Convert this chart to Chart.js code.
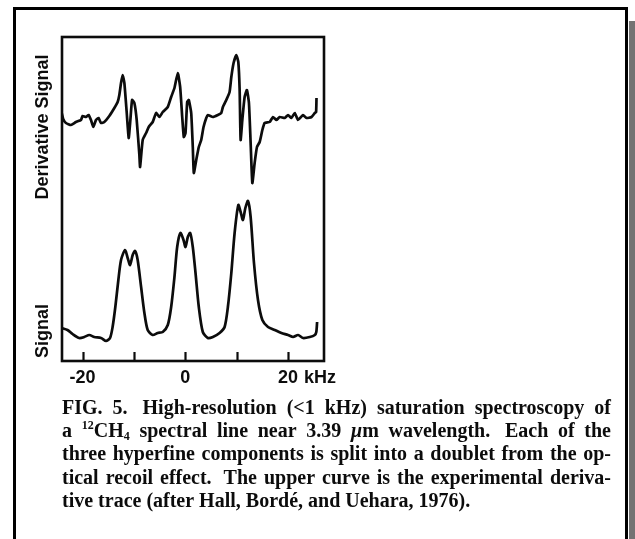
<!DOCTYPE html>
<html>
<head>
<meta charset="utf-8">
<title>Saturation spectroscopy of CH4</title>
<script src="https://cdn.jsdelivr.net/npm/chart.js@4/dist/chart.umd.min.js"></script>
<style>
  html, body { margin: 0; padding: 0; background: #fff; }
  canvas { display: block; }
</style>
</head>
<body>
<canvas id="c" width="635" height="539"></canvas>
<script>
// Frequency offset (kHz) and trace height (arbitrary units) of the derivative trace
const derivX = [-24.06,-23.77,-23.24,-22.26,-21.29,-20.31,-20.0,-19.34,-18.83,-18.36,-17.91,-17.39,-16.88,-16.41,-15.77,-14.79,-13.81,-13.17,-12.84,-12.51,-12.20,-11.86,-11.41,-11.02,-10.69,-10.36,-9.91,-9.46,-8.94,-8.80,-8.29,-7.63,-7.12,-6.34,-5.68,-5.03,-4.39,-3.41,-2.75,-2.11,-1.46,-1.00,-0.60,-0.29,0.04,0.37,0.68,1.15,1.46,1.66,2.13,2.63,3.10,3.55,4.08,4.39,5.37,6.34,7.00,7.32,7.98,8.62,8.96,9.40,9.93,10.32,10.58,10.77,11.10,11.55,12.00,12.39,12.72,13.05,13.50,13.95,14.48,15.00,15.45,16.43,17.07,17.74,18.38,19.36,20.0,20.66,21.31,21.95,22.93,23.59,24.57,25.21,25.46,25.54];
const derivY = [248,242,238,236,239,241,245,244,246,241,234,241,243,238,239,245,253,259,266,278,286,278,249,223,241,261,258,241,206,194,221,228,234,239,248,244,249,254,264,273,288,274,244,224,228,259,261,248,214,188,201,214,221,234,243,246,244,246,248,254,261,269,284,298,306,299,271,221,241,264,271,258,218,178,198,214,219,231,238,239,244,241,244,243,246,243,248,241,246,243,244,248,249,263];

// Frequency offset (kHz) and height of the absorption signal trace
const signalX = [-24.1,-22.93,-21.95,-20.64,-19.67,-18.69,-17.72,-16.41,-15.43,-14.65,-14.15,-13.62,-13.03,-12.51,-11.73,-11.22,-10.75,-10.24,-9.78,-9.27,-8.60,-7.96,-7.32,-6.34,-5.37,-4.39,-3.41,-2.75,-2.11,-1.58,-0.94,-0.35,0.04,0.49,0.96,1.46,1.99,2.63,3.41,4.39,5.37,6.67,7.65,8.29,8.96,9.60,10.32,10.77,11.22,11.69,12.20,12.72,13.37,14.15,15.00,16.10,17.40,18.71,20.0,20.98,21.95,22.93,24.23,25.21,25.50,25.66];
const signalY = [33,31,27,23,24,26,24,23,20,23,34,54,81,101,111,103,96,106,110,101,74,48,31,26,28,29,36,54,84,114,128,121,114,124,128,114,88,54,29,23,24,28,34,54,88,128,156,149,141,153,160,144,98,61,41,34,31,28,26,24,26,23,24,26,29,39];

// Frequency axis
const tickValues = [-20, -10, 0, 10, 20];
const tickLabels = { "-20": "-20", "0": "0", "20": "20" };
const axisUnit = "kHz";

// Trace names on the left, with the height each is centred on
const traceNames = ["Derivative Signal", "Signal"];
const traceNameAt = [234, 30];

// Figure caption (^{} superscript, _{} subscript, ~{} italic)
const captionLines = [
  "FIG. 5.  High-resolution (<1 kHz) saturation spectroscopy of",
  "a ^{12}CH_{4} spectral line near 3.39 ~{\u03bc}m wavelength.  Each of the",
  "three hyperfine components is split into a doublet from the op-",
  "tical recoil effect.  The upper curve is the experimental deriva-",
  "tive trace (after Hall, Bord\u00e9, and Uehara, 1976)."
];

const SANS = '"Liberation Sans", Arial, Helvetica, sans-serif';
const SERIF = '"Liberation Serif", "Times New Roman", Times, serif';
const INK = '#0c0c0c';

function toPoints(xs, ys) { return xs.map((x, i) => ({ x: x, y: ys[i] })); }

// Caption helpers: split a word into styled runs
function runsOf(word) {
  const out = [];
  const re = /\^\{([^}]*)\}|_\{([^}]*)\}|~\{([^}]*)\}|([^^_~]+)/g;
  let m;
  while ((m = re.exec(word)) !== null) {
    if (m[1] !== undefined) out.push({ t: m[1], k: 'sup' });
    else if (m[2] !== undefined) out.push({ t: m[2], k: 'sub' });
    else if (m[3] !== undefined) out.push({ t: m[3], k: 'it' });
    else out.push({ t: m[4], k: 'n' });
  }
  return out;
}
function runFont(k) {
  if (k === 'sup' || k === 'sub') return 'bold 12px ' + SERIF;
  if (k === 'it') return 'italic bold 20px ' + SERIF;
  return 'bold 20px ' + SERIF;
}
function runShift(k) { return k === 'sup' ? -8 : (k === 'sub' ? 3 : 0); }
function wordWidth(ctx, runs) {
  let w = 0;
  runs.forEach(r => { ctx.font = runFont(r.k); w += ctx.measureText(r.t).width; });
  return w;
}
function drawWord(ctx, runs, x, y) {
  runs.forEach(r => {
    ctx.font = runFont(r.k);
    ctx.fillText(r.t, x, y + runShift(r.k));
    x += ctx.measureText(r.t).width;
  });
}

const figurePlugin = {
  id: 'figure',
  beforeDraw(chart) {
    const c = chart.ctx;
    c.save();
    c.fillStyle = '#fff';
    c.fillRect(0, 0, chart.width, chart.height);
    // page shadow along the right edge
    c.fillStyle = '#737373';
    c.fillRect(629, 21, 6, chart.height - 21);
    // outer box
    c.strokeStyle = '#000';
    c.lineWidth = 3;
    c.beginPath();
    c.moveTo(14.5, chart.height + 5);
    c.lineTo(14.5, 8.5);
    c.lineTo(626.5, 8.5);
    c.lineTo(626.5, chart.height + 5);
    c.stroke();
    c.restore();
  },
  afterDatasetsDraw(chart) {
    const c = chart.ctx;
    const a = chart.chartArea;
    const xs = chart.scales.x;
    c.save();
    c.strokeStyle = INK;
    c.lineWidth = 2.6;
    c.strokeRect(a.left, a.top, a.right - a.left, a.bottom - a.top);
    // inward tick marks on the frequency axis
    c.lineWidth = 2.2;
    xs.ticks.forEach(t => {
      const px = Math.round(xs.getPixelForValue(t.value)) + 0.5;
      c.beginPath();
      c.moveTo(px, a.bottom);
      c.lineTo(px, a.bottom - 9);
      c.stroke();
    });
    c.restore();
  },
  afterDraw(chart) {
    const c = chart.ctx;
    const a = chart.chartArea;
    const xs = chart.scales.x;
    const ys = chart.scales.y;
    c.save();
    c.fillStyle = INK;

    // unit after the last labelled tick
    c.font = 'bold 18px ' + SANS;
    c.textBaseline = 'middle';
    c.textAlign = 'left';
    const lastVal = 20;
    const px20 = xs.getPixelForValue(lastVal);
    const w20 = c.measureText(tickLabels[String(lastVal)]).width;
    c.fillText(axisUnit, px20 + w20 / 2 + 6, a.bottom + 6 + 10.8);

    // trace names, rotated
    c.textAlign = 'center';
    traceNames.forEach((name, i) => {
      c.save();
      c.translate(43, ys.getPixelForValue(traceNameAt[i]));
      c.rotate(-Math.PI / 2);
      c.fillText(name, 0, 0);
      c.restore();
    });

    // caption, justified between the margins
    c.textAlign = 'left';
    c.textBaseline = 'alphabetic';
    const left = 62, right = 611, top = 414, lead = 23.2;
    c.font = 'bold 20px ' + SERIF;
    const spaceW = c.measureText(' ').width;
    captionLines.forEach((line, li) => {
      const tokens = line.split(' ');
      const words = [];
      let pending = 0;
      tokens.forEach(tok => {
        if (tok === '') { pending++; return; }
        words.push({ runs: runsOf(tok), gap: words.length ? pending + 1 : 0 });
        pending = 0;
      });
      words.forEach(w => { w.w = wordWidth(c, w.runs); });
      const natural = words.reduce((s, w) => s + w.w + w.gap * spaceW, 0);
      const gaps = words.length - 1;
      const last = li === captionLines.length - 1;
      const extra = (!last && gaps > 0) ? (right - left - natural) / gaps : 0;
      let x = left;
      const y = top + li * lead;
      words.forEach((w, wi) => {
        if (wi > 0) x += w.gap * spaceW + extra;
        drawWord(c, w.runs, x, y);
        x += w.w;
      });
    });
    c.restore();
  }
};

new Chart(document.getElementById('c'), {
  type: 'line',
  data: {
    datasets: [
      {
        label: traceNames[0],
        data: toPoints(derivX, derivY),
        borderColor: INK,
        borderWidth: 2.7,
        pointRadius: 0,
        tension: 0.15,
        fill: false
      },
      {
        label: traceNames[1],
        data: toPoints(signalX, signalY),
        borderColor: INK,
        borderWidth: 2.7,
        pointRadius: 0,
        tension: 0.25,
        fill: false
      }
    ]
  },
  options: {
    responsive: false,
    animation: false,
    devicePixelRatio: 1,
    layout: { padding: { left: 62, top: 37, right: 311, bottom: 0 } },
    plugins: { legend: { display: false }, tooltip: { enabled: false } },
    scales: {
      x: {
        type: 'linear',
        min: -24,
        max: 27,
        afterBuildTicks(scale) { scale.ticks = tickValues.map(v => ({ value: v })); },
        afterFit(scale) { scale.height = 178; },
        grid: { display: false, drawTicks: false },
        border: { display: false },
        ticks: {
          autoSkip: false,
          maxRotation: 0,
          padding: 6,
          color: INK,
          font: { family: SANS, size: 18, weight: 'bold' },
          callback: (v) => tickLabels[String(v)] ?? ''
        }
      },
      y: { type: 'linear', display: false, min: 0, max: 324 }
    }
  },
  plugins: [figurePlugin]
});
</script>
</body>
</html>
